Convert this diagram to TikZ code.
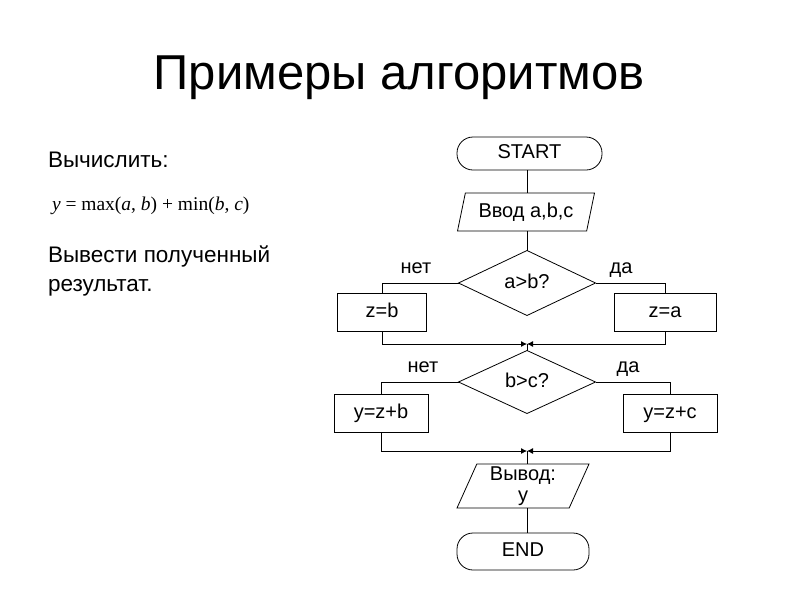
\documentclass[tikz,border=0pt]{standalone}
\usepackage{fontspec}
\setmainfont{Liberation Sans}
\newfontfamily\formfont{Liberation Serif}
\usetikzlibrary{shapes.geometric,arrows.meta}
\begin{document}
\begin{tikzpicture}[x=1pt,y=-1pt,
  every node/.style={inner sep=0pt, outer sep=0pt},
  ln/.style={line width=0.8pt, draw=black},
  fc/.style={font=\fontsize{20}{24}\selectfont, text height=14.5pt, text depth=4pt},
  term/.style={ln, fc, rectangle, rounded corners=16pt},
  io/.style={ln, trapezium, trapezium stretches body, font=\fontsize{20}{24}\selectfont, align=center},
  dec/.style={ln, fc, diamond, minimum width=137pt, minimum height=65pt},
  proc/.style={ln, fc, rectangle, minimum height=38pt},
  lbl/.style={fc},
  conn/.style={line width=0.8pt},
  jarr/.style={conn, -{Latex[length=6pt,width=6pt]}}
]
\useasboundingbox (0,0) rectangle (800,600);
\fill[white] (0,0) rectangle (800,600);

% title and task text
\node (title) at (399,78) {\fontsize{49}{55}\selectfont Примеры алгоритмов};
\node[anchor=west, font=\fontsize{22.5}{27}\selectfont] (task) at (48,160) {Вычислить:};
\node[anchor=west, font=\formfont\fontsize{19.5}{22}\selectfont] (form) at (52,206) {\textit{y} = max(\textit{a}, \textit{b}) + min(\textit{b}, \textit{c})};
\node[anchor=west, align=left, font=\fontsize{22.5}{29}\selectfont] (out-text) at (48,271) {Вывести полученный\\результат.};

% flowchart
\node[term, minimum width=145pt, minimum height=33pt] (start) at (529.5,153.5) {START};
\node[io, fc, minimum width=137pt, minimum height=38pt, trapezium left angle=67, trapezium right angle=113] (inp) at (526,212) {Ввод a,b,c};
\node[dec] (d1) at (527,283) {a>b?};
\node[proc, minimum width=89pt] (zb) at (382,312.5) {z=b};
\node[proc, minimum width=102pt] (za) at (665,312.5) {z=a};
\coordinate (j1) at (527,344);
\node[dec, minimum height=63pt] (d2) at (527,382) {b>c?};
\node[proc, minimum width=94pt] (yb) at (381,413) {y=z+b};
\node[proc, minimum width=94pt] (yc) at (670,413) {y=z+c};
\coordinate (j2) at (527,451);
\node[io, minimum width=132pt, minimum height=44pt, trapezium left angle=63, trapezium right angle=117, font=\fontsize{20}{21}\selectfont] (outp) at (523,486) {Вывод:\\y};
\node[term, minimum width=132pt, minimum height=37pt] (end) at (523,551.5) {END};

% labels
\node[lbl] (n1) at (416,268) {нет};
\node[lbl] (y1) at (621,268) {да};
\node[lbl] (n2) at (423,367) {нет};
\node[lbl] (y2) at (628,367) {да};

% connectors
\draw[conn] (start.south -| j1) -- (inp.north -| j1);
\draw[conn] (inp.south -| j1) -- (d1.north);
\draw[conn] (d1.west) -| (zb.north);
\draw[conn] (d1.east) -| (za.north);
\draw[jarr] (zb.south) |- (j1);
\draw[jarr] (za.south) |- (j1);
\draw[conn] (j1) -- (d2.north);
\draw[conn] (d2.west) -| (yb.north);
\draw[conn] (d2.east) -| (yc.north);
\draw[jarr] (yb.south) |- (j2);
\draw[jarr] (yc.south) |- (j2);
\draw[conn] (j2) -- (outp.north -| j2);
\draw[conn] (outp.south -| j2) -- (end.north -| j2);
\end{tikzpicture}
\end{document}
